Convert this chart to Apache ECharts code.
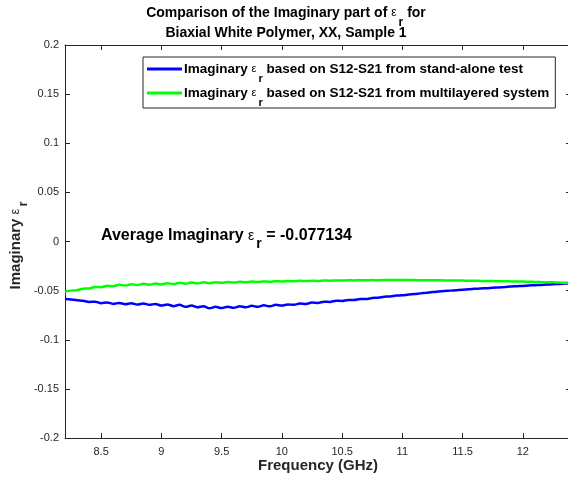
<!DOCTYPE html>
<html>
<head>
<meta charset="utf-8">
<script src="https://cdn.jsdelivr.net/npm/echarts@6/dist/echarts.min.js"></script>
<style>html,body{margin:0;padding:0;background:#fff;}#c{width:568px;height:477px;}</style>
</head>
<body>
<div id="c"></div>
<script>
const freq = [8.20,8.25,8.30,8.35,8.40,8.45,8.50,8.55,8.60,8.65,8.70,8.75,8.80,8.85,8.90,8.95,
9.00,9.05,9.10,9.15,9.20,9.25,9.30,9.35,9.40,9.45,9.50,9.55,9.60,9.65,9.70,9.75,9.80,9.85,9.90,9.95,
10.00,10.05,10.10,10.15,10.20,10.25,10.30,10.35,10.40,10.45,10.50,10.55,10.60,10.65,10.70,10.75,10.80,10.85,10.90,10.95,
11.00,11.05,11.10,11.15,11.20,11.25,11.30,11.35,11.40,11.45,11.50,11.55,11.60,11.65,11.70,11.75,11.80,11.85,11.90,11.95,
12.00,12.05,12.10,12.15,12.20,12.25,12.30,12.35,12.40];
const standAlone = [-0.0585,-0.0590,-0.0598,-0.0603,-0.0615,-0.0612,-0.0628,-0.0620,-0.0635,-0.0625,-0.0638,-0.0628,-0.0642,-0.0630,-0.0645,-0.0635,
-0.0652,-0.0640,-0.0658,-0.0645,-0.0665,-0.0652,-0.0670,-0.0660,-0.0680,-0.0665,-0.0678,-0.0663,-0.0675,-0.0660,-0.0670,-0.0655,-0.0665,-0.0650,-0.0660,-0.0645,
-0.0652,-0.0640,-0.0645,-0.0630,-0.0635,-0.0622,-0.0625,-0.0612,-0.0615,-0.0602,-0.0605,-0.0595,-0.0595,-0.0585,-0.0585,-0.0575,-0.0572,-0.0562,-0.0560,-0.0550,
-0.0548,-0.0540,-0.0535,-0.0528,-0.0522,-0.0515,-0.0510,-0.0505,-0.0500,-0.0495,-0.0490,-0.0487,-0.0482,-0.0478,-0.0475,-0.0470,-0.0467,-0.0463,-0.0458,-0.0455,
-0.0452,-0.0448,-0.0445,-0.0442,-0.0438,-0.0435,-0.0432,-0.0428,-0.0425];
const multilayer = [-0.0510,-0.0500,-0.0495,-0.0480,-0.0478,-0.0462,-0.0465,-0.0450,-0.0455,-0.0440,-0.0448,-0.0435,-0.0443,-0.0430,-0.0440,-0.0427,
-0.0437,-0.0424,-0.0433,-0.0421,-0.0430,-0.0418,-0.0427,-0.0416,-0.0424,-0.0414,-0.0421,-0.0412,-0.0418,-0.0410,-0.0415,-0.0408,-0.0412,-0.0406,-0.0410,-0.0404,
-0.0407,-0.0402,-0.0405,-0.0400,-0.0403,-0.0399,-0.0401,-0.0397,-0.0399,-0.0396,-0.0397,-0.0395,-0.0396,-0.0394,-0.0395,-0.0393,-0.0394,-0.0393,-0.0393,-0.0393,
-0.0393,-0.0393,-0.0393,-0.0394,-0.0394,-0.0395,-0.0395,-0.0396,-0.0396,-0.0397,-0.0398,-0.0399,-0.0400,-0.0401,-0.0402,-0.0403,-0.0404,-0.0405,-0.0406,-0.0407,
-0.0408,-0.0410,-0.0411,-0.0413,-0.0414,-0.0416,-0.0418,-0.0420,-0.0422];
const xTicks = [8.5,9,9.5,10,10.5,11,11.5,12];
const seriesNames = ['Imaginary {e|ε}{s|r} based on S12-S21 from stand-alone test','Imaginary {e|ε}{s|r} based on S12-S21 from multilayered system'];
const averageValue = '-0.077134';

const FONT = 'Liberation Sans, Arial, Helvetica, sans-serif';
const AX = '#262626';
const chart = echarts.init(document.getElementById('c'));
const richBold = (size, color, lh) => ({
  e: {fontSize: Math.round(size * 0.85), fontWeight: 'normal', fontFamily: FONT, color: color || '#000', lineHeight: lh},
  s: {fontSize: Math.round(size * 0.85), fontWeight: 'bold', fontFamily: FONT, color: color || '#000', verticalAlign: 'bottom', lineHeight: lh, padding: [0, 0, -Math.round(size * 0.45), 2]}
});
const pairs = (ys) => freq.map((f, i) => [f, ys[i]]);

chart.setOption({
  animation: false,
  textStyle: {fontFamily: FONT},
  title: {
    text: 'Comparison of the Imaginary part of {e|ε}{s|r} for\nBiaxial White Polymer, XX, Sample 1',
    left: 281, top: -2, textAlign: 'center',
    textStyle: {fontSize: 14, fontWeight: 'bold', color: '#000', fontFamily: FONT, lineHeight: 20, rich: richBold(14)}
  },
  grid: {left: 65, top: 45, width: 506, height: 393, outerBoundsMode: 'none', containLabel: false},
  legend: {
    orient: 'vertical', left: 143, top: 57,
    icon: 'rect', itemWidth: 35, itemHeight: 3, itemGap: 0,
    padding: [3, 6, 0, 4],
    borderColor: AX, borderWidth: 1, backgroundColor: '#fff',
    textStyle: {fontSize: 13.5, fontWeight: 'bold', color: '#000', fontFamily: FONT, lineHeight: 18, rich: richBold(13.5, '#000', 18), padding: [0, 0, 0, -3]}
  },
  xAxis: [{
    type: 'value', min: 8.2, max: 12.4,
    name: 'Frequency (GHz)', nameLocation: 'middle', nameGap: 20, nameMoveOverlap: false,
    nameTextStyle: {fontSize: 15, fontWeight: 'bold', color: AX, fontFamily: FONT},
    axisLine: {onZero: false, lineStyle: {color: AX, width: 1}},
    axisTick: {inside: true, length: 5, lineStyle: {color: AX}, customValues: xTicks},
    axisLabel: {fontSize: 11, color: AX, margin: 8, customValues: xTicks, formatter: (v) => String(v)},
    splitLine: {show: false}
  }, {
    type: 'value', min: 8.2, max: 12.4, position: 'top',
    axisLine: {onZero: false, lineStyle: {color: AX, width: 1}},
    axisTick: {inside: true, length: 5, lineStyle: {color: AX}, customValues: xTicks},
    axisLabel: {show: false},
    splitLine: {show: false}
  }],
  yAxis: [{
    type: 'value', min: -0.2, max: 0.2, interval: 0.05,
    name: 'Imaginary {e|ε}{s|r}', nameLocation: 'middle', nameGap: 42, nameRotate: 90, nameMoveOverlap: false,
    nameTextStyle: {fontSize: 15, fontWeight: 'bold', color: AX, fontFamily: FONT, rich: richBold(15, AX), padding: [0, 0, 0, -8]},
    axisLine: {show: true, onZero: false, lineStyle: {color: AX, width: 1}},
    axisTick: {show: true, inside: true, length: 5, lineStyle: {color: AX}},
    axisLabel: {fontSize: 11, color: AX, margin: 6, formatter: (v) => String(Math.round(v * 100) / 100)},
    splitLine: {show: false}
  }, {
    type: 'value', min: -0.2, max: 0.2, interval: 0.05, position: 'right',
    axisLine: {show: true, onZero: false, lineStyle: {color: AX, width: 1}},
    axisTick: {show: true, inside: true, length: 5, lineStyle: {color: AX}},
    axisLabel: {show: false},
    splitLine: {show: false}
  }],
  graphic: [{
    type: 'text', left: 101, top: 228, z: 100,
    style: {
      text: 'Average Imaginary {e|ε}{s|r} = ' + averageValue,
      fontSize: 16, fontWeight: 'bold', fill: '#000', fontFamily: FONT,
      rich: richBold(16)
    }
  }],
  series: [{
    name: seriesNames[0], type: 'line', data: pairs(standAlone), showSymbol: false,
    lineStyle: {color: '#0000ff', width: 2.5}, itemStyle: {color: '#0000ff'}, smooth: 0.3
  }, {
    name: seriesNames[1], type: 'line', data: pairs(multilayer), showSymbol: false,
    lineStyle: {color: '#00ff00', width: 2.5}, itemStyle: {color: '#00ff00'}, smooth: 0.3
  }]
});
</script>
</body>
</html>
